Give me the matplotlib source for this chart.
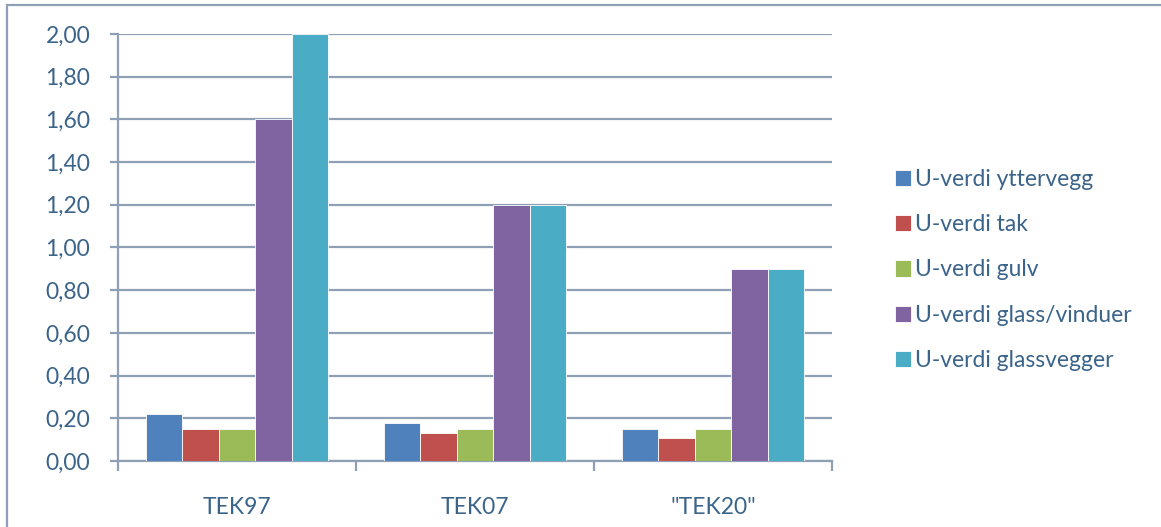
import numpy as np
import matplotlib.pyplot as plt
from matplotlib.patches import Rectangle
from matplotlib.ticker import FuncFormatter, MultipleLocator

categories = ['TEK97', 'TEK07', '"TEK20"']
series = ['U-verdi yttervegg', 'U-verdi tak', 'U-verdi gulv',
          'U-verdi glass/vinduer', 'U-verdi glassvegger']
yttervegg = [0.22, 0.18, 0.15]
tak = [0.15, 0.13, 0.11]
gulv = [0.15, 0.15, 0.15]
glass_vinduer = [1.60, 1.20, 0.90]
glassvegger = [2.00, 1.20, 0.90]
colors = ['#4F81BD', '#C0504D', '#9BBB59', '#8064A2', '#4BACC6']

text_col = '#3B648A'
line_col = '#8FA0B6'
fs = 16.5

plt.rcParams['font.family'] = ['Lato', 'DejaVu Sans']

fig = plt.figure(figsize=(11.61, 5.27), dpi=100)
ax = fig.add_axes([118/1161, 1 - 461/527, 714/1161, 427/527])

values = [yttervegg, tak, gulv, glass_vinduer, glassvegger]
x = np.arange(len(categories))
group_w = 0.767
bw = group_w / len(series)
for i, (name, vals) in enumerate(zip(series, values)):
    offs = -group_w / 2 + bw * (i + 0.5)
    ax.bar(x + offs, vals, bw, color=colors[i], label=name,
           edgecolor='white', linewidth=0.6, zorder=3)

ax.set_xlim(-0.5, len(categories) - 0.5)
ax.set_ylim(0, 2.0)
ax.yaxis.set_major_locator(MultipleLocator(0.2))
ax.yaxis.set_major_formatter(FuncFormatter(lambda v, p: f'{v:.2f}'.replace('.', ',')))
ax.grid(axis='y', color=line_col, linewidth=1.6, zorder=0)

ax.set_xticks(x)
ax.set_xticklabels(categories)
ax.set_xticks(np.arange(len(categories) + 1) - 0.5, minor=True)
ax.tick_params(axis='x', which='major', length=0, pad=26,
               labelsize=fs, labelcolor=text_col)
ax.tick_params(axis='x', which='minor', length=7, width=1.6,
               color=line_col, direction='out')
ax.tick_params(axis='y', length=6, width=1.6, color=line_col,
               pad=14, labelsize=fs, labelcolor=text_col)

for s in ['top', 'right']:
    ax.spines[s].set_visible(False)
for s in ['left', 'bottom']:
    ax.spines[s].set_color(line_col)
    ax.spines[s].set_linewidth(1.6)

leg = ax.legend(loc='center left', bbox_to_anchor=(874/1161, 1 - 270/527),
                bbox_transform=fig.transFigure, frameon=False,
                fontsize=fs, handlelength=0.7, handleheight=0.7,
                handletextpad=0.2, labelspacing=1.05)
for t in leg.get_texts():
    t.set_color(text_col)

# outer chart border
fig.patches.append(Rectangle((7/1161, -0.05), 1.1, 1.05 - 5/527,
                             transform=fig.transFigure, fill=False,
                             edgecolor=line_col, linewidth=1.6))

fig.savefig('out.png', dpi=100)
